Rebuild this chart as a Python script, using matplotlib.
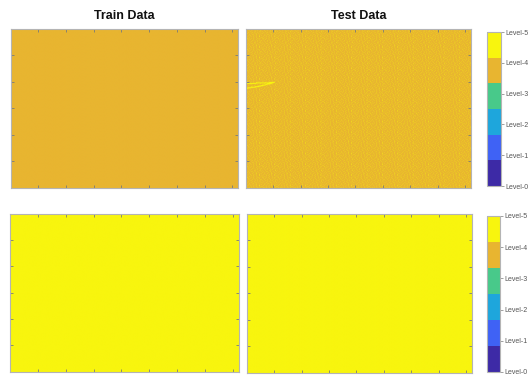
import matplotlib
matplotlib.use("Agg")
import matplotlib.pyplot as plt
import numpy as np
from matplotlib.colors import ListedColormap, Normalize
from matplotlib.cm import ScalarMappable

plt.rcParams["font.family"] = ["Liberation Sans", "DejaVu Sans"]

# class levels and their colours (parula-like, 6 steps)
level_labels = ["Level-0", "Level-1", "Level-2", "Level-3", "Level-4", "Level-5"]
level_colors = ["#3d2aa6", "#3f62f5", "#1ea6dc", "#48c98a", "#e8b530", "#f8f50e"]

col_titles = ["Train Data", "Test Data"]

# map size (rows x cols)
n_rows, n_cols = 300, 410
tick_step = 50

# dominant predicted level of each panel: [row][col]
base_level = [[4, 4], [5, 5]]

# sparse level-5 speckle in the top test map (repeating patch)
speckle_patch = [
    "..#..........#.........#....",
    ".......#...........#........",
    "....#.........#.........#...",
    "#..........#.........#......",
    ".....#..........#.........#.",
    "..........#.........#.......",
    ".#.....#.........#.......#..",
    "...............#.........#..",
    "....#......#.........#......",
    ".........#......#..........#",
    "..#...............#....#....",
    "......#......#..............",
    "...........#.......#.....#..",
    "#....#............#.........",
    "........#.....#.........#...",
    "...#..............#.....#...",
    ".........#...#..........#...",
    ".#.................#.......#",
    "......#.......#.............",
    "...#.....#..........#....#..",
]

# thin level-5 streak at the left edge of the test map (col, row)
streak_cols = [0, 12, 24, 36, 46, 50, 44, 36, 28, 20, 12, 5, 0]
streak_rows = [103, 103, 102, 102, 101, 101, 103, 105, 107, 109, 110, 111, 112]


def build_map(level, speckle=False, streak=False):
    grid = np.full((n_rows, n_cols), level, dtype=float)
    if speckle:
        width = max(len(r) for r in speckle_patch)
        patch = np.array([[c == "#" for c in r.ljust(width, ".")[:width]] for r in speckle_patch])
        reps = (n_rows // patch.shape[0] + 1, n_cols // patch.shape[1] + 1)
        mask = np.tile(patch, reps)[:n_rows, :n_cols]
        grid[mask] = 5
    if streak:
        for i in range(len(streak_cols) - 1):
            c0, c1 = streak_cols[i], streak_cols[i + 1]
            r0, r1 = streak_rows[i], streak_rows[i + 1]
            steps = max(abs(c1 - c0), abs(r1 - r0)) + 1
            for cc, rr in zip(np.linspace(c0, c1, steps), np.linspace(r0, r1, steps)):
                c, r = int(round(cc)), int(round(rr))
                grid[r:r + 2, c:c + 2] = 5
    return grid


cmap = ListedColormap(level_colors)
norm = Normalize(vmin=0, vmax=5)

fig = plt.figure(figsize=(5.32, 3.77), dpi=100)

panel_pos = [
    [[0.0207, 0.5013, 0.4267, 0.4218], [0.4624, 0.5013, 0.4229, 0.4218]],
    [[0.0188, 0.0133, 0.4305, 0.4190], [0.4643, 0.0106, 0.4229, 0.4218]],
]
cbar_pos = [[0.9154, 0.5066, 0.0263, 0.4085], [0.9154, 0.0133, 0.0244, 0.4138]]

frame_color = "#b4b4b4"

for i in range(2):
    for j in range(2):
        ax = fig.add_axes(panel_pos[i][j])
        grid = build_map(base_level[i][j], speckle=(i == 0 and j == 1), streak=(i == 0 and j == 1))
        ax.imshow(grid, cmap=cmap, norm=norm, aspect="auto",
                  extent=(0.5, n_cols + 0.5, n_rows + 0.5, 0.5),
                  interpolation="hanning", interpolation_stage="rgba")
        ax.set_xticks(np.arange(tick_step, n_cols, tick_step))
        ax.set_yticks(np.arange(tick_step, n_rows, tick_step))
        ax.tick_params(direction="in", length=2.5, width=0.6, color="#7a7a7a",
                       top=True, right=True, labelbottom=False, labelleft=False)
        for s in ax.spines.values():
            s.set_color(frame_color)
            s.set_linewidth(0.8)
        if i == 0:
            bb = ax.get_position()
            fig.text(bb.x0 + bb.width / 2, 0.958, col_titles[j], ha="center", va="center",
                     fontsize=9, fontweight="bold", color="#111111")

    cax = fig.add_axes(cbar_pos[i])
    cb = fig.colorbar(ScalarMappable(norm=norm, cmap=cmap), cax=cax, ticks=range(6))
    cb.ax.set_yticklabels(level_labels)
    cb.ax.tick_params(length=2, width=0.5, color="#7a7a7a", labelsize=5,
                      labelcolor="#555555", pad=1.5)
    cb.outline.set_edgecolor(frame_color)
    cb.outline.set_linewidth(0.8)

fig.savefig("out.png", dpi=100)
